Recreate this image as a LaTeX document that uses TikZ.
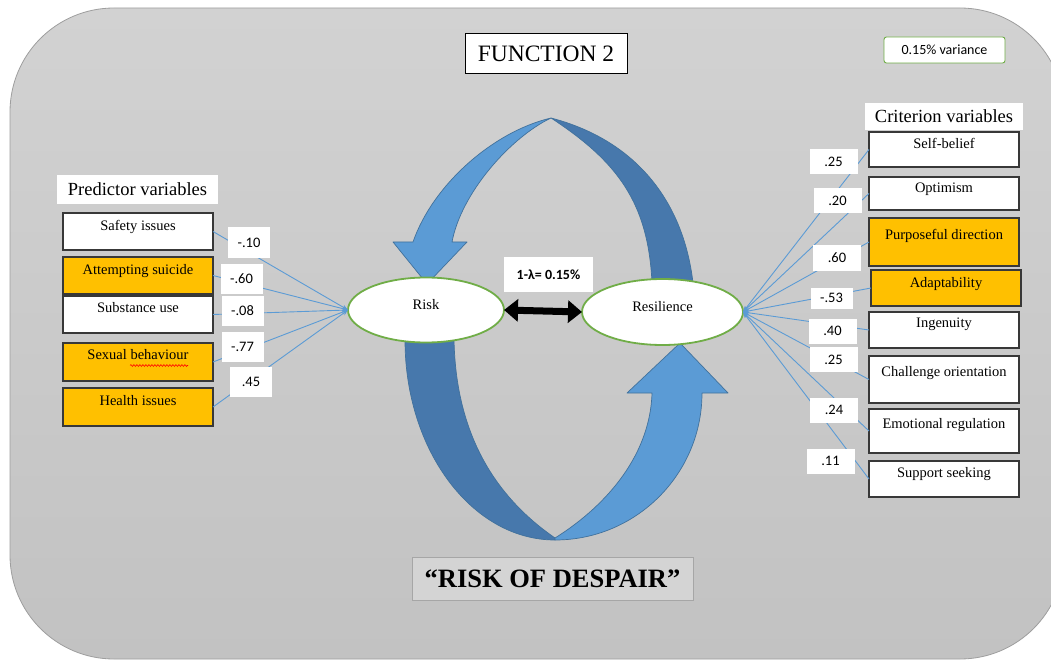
\documentclass[tikz,border=0pt]{standalone}
\usepackage{fontspec}
\setmainfont{Liberation Serif}
\newfontfamily\calibri{Carlito}
\usetikzlibrary{shapes.geometric,arrows.meta,decorations.pathmorphing}
\definecolor{bgtop}{HTML}{D2D2D2}
\definecolor{bgbot}{HTML}{C2C2C2}
\definecolor{bgline}{HTML}{9E9E9E}
\definecolor{lineblue}{HTML}{5B9BD5}
\definecolor{lightarc}{HTML}{5B9BD5}
\definecolor{darkarc}{HTML}{4778AC}
\definecolor{arcline}{HTML}{41719C}
\definecolor{ellgreen}{HTML}{70AD47}
\definecolor{orangefill}{HTML}{FFC000}
\definecolor{despairfill}{HTML}{D4D4D4}
\begin{document}
\begin{tikzpicture}[x=1pt,y=-1pt,
  every node/.style={inner sep=0pt, outer sep=0pt},
  varbox/.style={draw=black!78, line width=1.2pt, fill=white, minimum width=150pt,
    anchor=north west, font=\fontsize{14.5}{17}\selectfont},
  orangebox/.style={varbox, fill=orangefill},
  tb/.style 2 args={text height=#1pt, text depth=#2pt},
  conn/.style={draw=lineblue, line width=0.9pt, -{Stealth[length=6pt,width=4.5pt]}},
  coefl/.style={fill=white, minimum width=42pt, minimum height=30pt,
    font=\calibri\fontsize{14.5}{17}\selectfont},
  coefr/.style={fill=white, minimum width=48pt, minimum height=25pt,
    font=\calibri\fontsize{14.5}{17}\selectfont},
  latent/.style={ellipse, draw=ellgreen, line width=1.8pt, fill=white,
    text height=10pt, text depth=11pt, font=\fontsize{14.5}{17}\selectfont},
  heading/.style={fill=white, font=\fontsize{18.5}{21}\selectfont},
  lightpiece/.style={fill=lightarc, draw=arcline, line width=0.7pt, line join=round},
  darkpiece/.style={fill=darkarc, draw=arcline, line width=0.7pt, line join=round}
]
\useasboundingbox (0,0) rectangle (1051,660);
% background panel
\path[draw=bgline, line width=0.8pt, top color=bgtop, bottom color=bgbot,
  rounded corners=104pt] (10,8) rectangle (1064,659);

% top curved arrow: dark back half (right), light front half (left, with head)
\path[darkpiece] (551,118) .. controls (633.2,139.4) and (683.2,198.6) .. (693,283)
  -- (652,283) .. controls (648.3,203) and (617.9,161.8) .. (551,118) -- cycle;
\path[lightpiece] (413,242) .. controls (432.6,185.3) and (492.6,131.8) .. (551,118)
  .. controls (510.5,137.4) and (461.2,192.9) .. (452,242)
  -- (467,242) -- (427,284) -- (393,242) -- cycle;

% bottom curved arrow: dark half (left), light half (right, with head)
\path[darkpiece] (405,340) .. controls (405,450.4) and (472.2,540) .. (555,540)
  -- (555,538) .. controls (500,500) and (456,440) .. (454,340) -- cycle;
\path[lightpiece] (680,343) -- (728,393) -- (702,393)
  .. controls (702,474.1) and (636.1,540) .. (555,540)
  -- (555,538) .. controls (600,510) and (650,460) .. (652,393)
  -- (627,393) -- cycle;

% latent variables
\node[latent, minimum width=156pt, minimum height=65pt] (risk) at (426,310) {Risk};
\node[latent, minimum width=161pt, minimum height=66pt] (resil) at (662.5,312) {Resilience};
\draw[line width=7pt, {Triangle[length=14pt,width=22pt]}-{Triangle[length=14pt,width=22pt]}]
  (risk.east) -- (resil.west);
\node[fill=white, minimum width=89pt, minimum height=35pt,
  font=\calibri\bfseries\fontsize{14}{17}\selectfont] (lambda) at (548.5,274.5) {1-λ= 0.15\%};

% headings
\node[heading, minimum width=161pt, minimum height=29pt] (predh) at (137.5,189.5) {Predictor variables};
\node[heading, minimum width=158pt, minimum height=27pt] (crith) at (944,116.5) {Criterion variables};
\node[draw=black, line width=1pt, fill=white, minimum width=162pt, minimum height=40pt,
  font=\fontsize{23.5}{27}\selectfont] (func) at (546,53.5) {FUNCTION 2};
\node[draw=ellgreen, line width=0.9pt, rounded corners=2.5pt, fill=white,
  minimum width=121pt, minimum height=26pt,
  font=\calibri\fontsize{14}{17}\selectfont] (varn) at (944.5,50) {0.15\% variance};
\node[draw=black!35, line width=0.8pt, fill=despairfill, minimum width=281pt, minimum height=43pt,
  font=\bfseries\fontsize{26.5}{30}\selectfont] (despair) at (552.5,578.5) {“RISK OF DESPAIR”};

% predictor boxes
\node[varbox, tb={17.5}{19.5}] (safety) at (63,213) {Safety issues};
\node[orangebox, tb={17.5}{19.5}] (suicide) at (63,257) {Attempting suicide};
\node[varbox, tb={16.5}{20.5}] (subst) at (63,296) {Substance use};
\node[orangebox, tb={16.5}{21.5}] (sexual) at (63,343) {Sexual behaviour};
\node[orangebox, tb={17.5}{20.5}] (health) at (63,388) {Health issues};
\draw[red, line width=0.6pt, decorate, decoration={snake, amplitude=0.9pt, segment length=3pt}]
  (130,365.5) -- (188,365.5);

% criterion boxes
\node[varbox, tb={16.5}{18.5}] (selfb) at (869,132) {Self-belief};
\node[varbox, tb={15.5}{17.5}] (optim) at (869,177) {Optimism};
\node[orangebox, tb={21.5}{26.5}] (purpose) at (869,218) {Purposeful direction};
\node[orangebox, tb={17.5}{18.5}] (adapt) at (871,270) {Adaptability};
\node[varbox, tb={15.5}{20.5}] (ingen) at (869,312) {Ingenuity};
\node[varbox, tb={20.5}{26.5}] (chall) at (869,356) {Challenge orientation};
\node[varbox, tb={19.5}{24.5}] (emot) at (869,409) {Emotional regulation};
\node[varbox, tb={16.5}{19.5}] (support) at (869,461) {Support seeking};

% connectors, left
\foreach \b in {safety,suicide,subst,sexual,health}
  \draw[conn] (\b.east) -- (risk.west);
% connectors, right
\foreach \b in {selfb,optim,purpose,adapt,ingen,chall,emot,support}
  \draw[conn] (\b.west) -- (resil.east);

% coefficient labels, left
\node[coefl] (c1) at (249,242.5) {-.10};
\node[coefl] (c2) at (241.5,279) {-.60};
\node[coefl] (c3) at (242.5,311) {-.08};
\node[coefl] (c4) at (242.5,347) {-.77};
\node[coefl] (c5) at (251,381.5) {.45};
% coefficient labels, right
\node[coefr] (r1) at (833.5,161.5) {.25};
\node[coefr] (r2) at (837.5,200.5) {.20};
\node[coefr] (r3) at (837,258) {.60};
\node[coefr, minimum width=42pt, minimum height=21pt] (r4) at (831.5,298) {-.53};
\node[coefr] (r5) at (832.5,331) {.40};
\node[coefr] (r6) at (833.5,359.5) {.25};
\node[coefr] (r7) at (834,410) {.24};
\node[coefr] (r8) at (830.5,461) {.11};
\end{tikzpicture}
\end{document}
